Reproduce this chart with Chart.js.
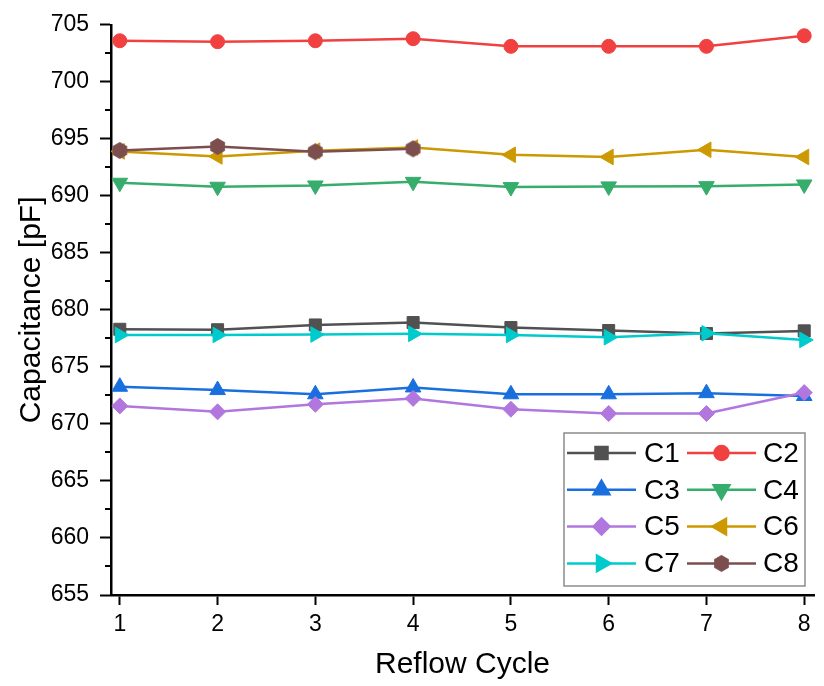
<!DOCTYPE html>
<html>
<head>
<meta charset="utf-8">
<script src="https://cdn.jsdelivr.net/npm/chart.js@4.4.0/dist/chart.umd.min.js"></script>
<style>
  html, body { margin: 0; padding: 0; background: #fff; }
</style>
</head>
<body>
<canvas id="capChart" width="824" height="686"></canvas>
<script>
const cycles = [1, 2, 3, 4, 5, 6, 7, 8];
const seriesNames = ['C1', 'C2', 'C3', 'C4', 'C5', 'C6', 'C7', 'C8'];
const c1 = [678.30, 678.26, 678.68, 678.89, 678.45, 678.19, 677.93, 678.16];
const c2 = [703.60, 703.52, 703.60, 703.78, 703.11, 703.11, 703.11, 704.04];
const c3 = [673.26, 672.97, 672.60, 673.20, 672.60, 672.60, 672.70, 672.45];
const c4 = [691.15, 690.80, 690.91, 691.23, 690.77, 690.83, 690.85, 691.00];
const c5 = [671.58, 671.06, 671.72, 672.24, 671.29, 670.91, 670.91, 672.75];
const c6 = [693.90, 693.46, 693.96, 694.24, 693.60, 693.41, 694.04, 693.41];
const c7 = [677.80, 677.80, 677.84, 677.90, 677.80, 677.60, 677.95, 677.37];
const c8 = [693.98, 694.33, 693.87, 694.13];
const xTicks = [1, 2, 3, 4, 5, 6, 7, 8];
const yTicks = [655, 660, 665, 670, 675, 680, 685, 690, 695, 700, 705];

const FONT = "'Liberation Sans', Arial, sans-serif";

function hexagon(r, color) {
    const s = Math.ceil(r * 2 + 2);
    const c = document.createElement('canvas');
    c.width = s; c.height = s;
    const g = c.getContext('2d');
    g.fillStyle = color;
    g.beginPath();
    for (let k = 0; k < 6; k++) {
        const a = Math.PI / 3 * k - Math.PI / 2;
        g.lineTo(s / 2 + r * Math.cos(a), s / 2 + r * Math.sin(a));
    }
    g.closePath();
    g.fill();
    return c;
}

// Origin "Bright" palette + marker per series
const styles = [
    { color: '#515151', pointStyle: 'rect', radius: 8.5, rotation: 0 },
    { color: '#F14040', pointStyle: 'circle', radius: 7, rotation: 0 },
    { color: '#1A6FDF', pointStyle: 'triangle', radius: 9, rotation: 0 },
    { color: '#37AD6B', pointStyle: 'triangle', radius: 9, rotation: 180 },
    { color: '#B177DE', pointStyle: 'rectRot', radius: 8, rotation: 0 },
    { color: '#CC9900', pointStyle: 'triangle', radius: 9, rotation: 270 },
    { color: '#00CBCC', pointStyle: 'triangle', radius: 9, rotation: 90 },
    { color: '#7D4E4E', pointStyle: hexagon(8.5, '#7D4E4E'), radius: 8.5, rotation: 0 }
];

const allValues = [c1, c2, c3, c4, c5, c6, c7, c8];

const datasets = allValues.map((vals, i) => ({
    label: seriesNames[i],
    data: vals.map((v, k) => ({ x: cycles[k], y: v })),
    borderColor: styles[i].color,
    backgroundColor: styles[i].color,
    borderWidth: 2.5,
    pointStyle: styles[i].pointStyle,
    pointRadius: styles[i].radius,
    pointRotation: styles[i].rotation,
    pointBackgroundColor: styles[i].color,
    pointBorderColor: styles[i].color,
    pointBorderWidth: 1,
    tension: 0,
    order: allValues.length - i
}));

const minorTicks = {
    id: 'minorTicks',
    afterDraw(chart) {
        const { ctx, chartArea, scales: { y } } = chart;
        ctx.save();
        ctx.strokeStyle = '#000';
        ctx.lineWidth = 2;
        for (let v = y.min + 2.5; v < y.max; v += 5) {
            const py = Math.round(y.getPixelForValue(v));
            ctx.beginPath();
            ctx.moveTo(chartArea.left, py);
            ctx.lineTo(chartArea.left - 6, py);
            ctx.stroke();
        }
        ctx.restore();
    }
};

const legendBox = {
    id: 'legendBox',
    afterDatasetsDraw(chart) {
        const { ctx, chartArea } = chart;
        const w = 241, h = 153;
        const x0 = chartArea.right - 9 - w;
        const y0 = chartArea.bottom - 9 - h;
        ctx.save();
        ctx.fillStyle = '#fff';
        ctx.fillRect(x0, y0, w, h);
        ctx.strokeStyle = '#8c8c8c';
        ctx.lineWidth = 1.5;
        ctx.strokeRect(x0, y0, w, h);
        ctx.font = '28px ' + FONT;
        ctx.textBaseline = 'middle';
        ctx.textAlign = 'left';
        seriesNames.forEach((name, i) => {
            const row = Math.floor(i / 2), col = i % 2;
            const ly = y0 + 20 + row * 36.8;
            const lx = x0 + 3 + col * 120;
            const st = styles[i];
            ctx.strokeStyle = st.color;
            ctx.lineWidth = 2.5;
            ctx.beginPath();
            ctx.moveTo(lx, ly);
            ctx.lineTo(lx + 69, ly);
            ctx.stroke();
            ctx.fillStyle = st.color;
            Chart.helpers.drawPoint(ctx, {
                pointStyle: st.pointStyle, radius: st.radius, rotation: st.rotation, borderWidth: 1
            }, lx + 34.5, ly);
            ctx.fillStyle = '#000';
            ctx.fillText(name, x0 + 80 + col * 119, ly + 1);
        });
        ctx.restore();
    }
};

new Chart(document.getElementById('capChart'), {
    type: 'line',
    data: { datasets },
    options: {
        responsive: false,
        animation: false,
        layout: { padding: { top: 19 } },
        plugins: { legend: { display: false } },
        scales: {
            x: {
                type: 'linear', min: 0.91, max: 8.1,
                afterBuildTicks: s => { s.ticks = xTicks.map(v => ({ value: v })); },
                afterFit: s => { s.height = 91; },
                border: { color: '#000', width: 2.5 },
                grid: { drawOnChartArea: false, tickLength: 10, tickWidth: 2, tickColor: '#000' },
                ticks: { color: '#000', padding: 6, font: { family: FONT, size: 23 } },
                title: {
                    display: true, text: 'Reflow Cycle', color: '#000',
                    font: { family: FONT, size: 30 }, padding: { top: 0, bottom: 3 }
                }
            },
            y: {
                min: 655, max: 705,
                afterBuildTicks: s => { s.ticks = yTicks.map(v => ({ value: v })); },
                afterFit: s => { s.width = 111; },
                border: { color: '#000', width: 2.5 },
                grid: { drawOnChartArea: false, tickLength: 11, tickWidth: 2, tickColor: '#000' },
                ticks: { color: '#000', padding: 11, font: { family: FONT, size: 23 } },
                title: {
                    display: true, text: 'Capacitance [pF]', color: '#000',
                    font: { family: FONT, size: 30 }, padding: { top: 14, bottom: 0 }
                }
            }
        }
    },
    plugins: [minorTicks, legendBox]
});
</script>
</body>
</html>
